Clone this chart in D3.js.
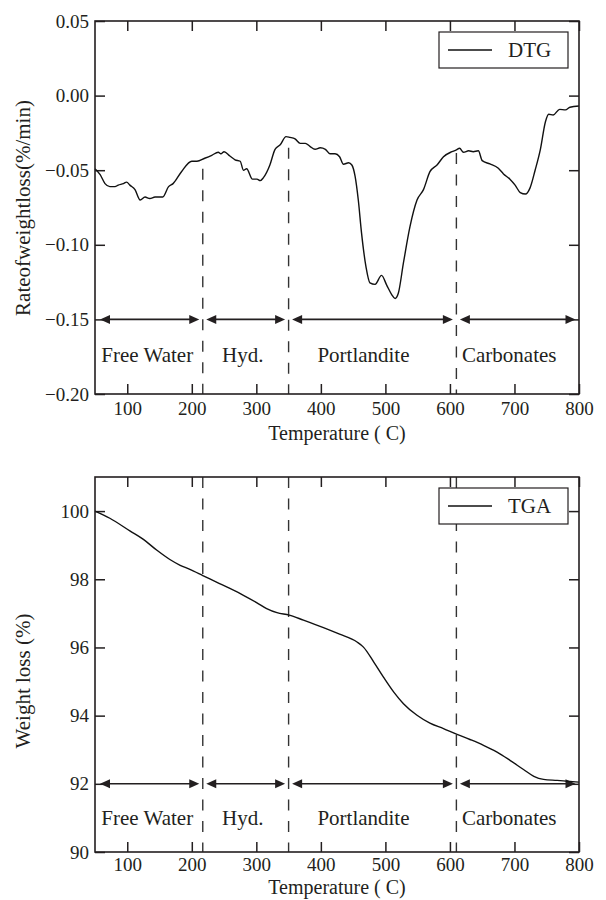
<!DOCTYPE html>
<html>
<head>
<meta charset="utf-8">
<script src="https://cdn.jsdelivr.net/npm/d3@7"></script>
<style>
  body { margin: 0; background: #fff; }
  svg { display: block; }
  text { font-family: "Liberation Serif", "Times New Roman", serif; fill: #231f20; }
</style>
</head>
<body>
<svg id="thermo"></svg>
<script>
// DTG: rate of weight loss (%/min) vs temperature
const dtgTemp = [50, 58, 65.5, 73, 81, 86, 94, 99, 104, 112, 120, 127.5, 135, 143, 151, 155, 164, 171, 184, 200,
  208, 220, 231, 241, 245, 250, 259, 267, 275, 280, 285, 294, 301, 306, 311, 321, 329, 337, 346, 352,
  360, 368, 376, 383, 391, 399, 407, 414, 422, 429, 435, 443, 448, 453, 458, 463, 470, 476, 484, 494,
  502, 510, 515, 520, 528, 538, 549, 559, 569, 580, 590, 603, 610, 615, 621, 629, 636, 644, 650, 662,
  675, 683, 693, 701, 709, 717, 724, 732, 740, 748, 753, 760, 770, 779, 786, 800];
const dtgRate = [-0.049, -0.053, -0.059, -0.061, -0.061, -0.060, -0.059, -0.058, -0.060, -0.063, -0.070, -0.068, -0.069, -0.068, -0.068, -0.068, -0.061, -0.059, -0.051, -0.044,
  -0.044, -0.042, -0.040, -0.038, -0.039, -0.0376, -0.0405, -0.043, -0.044, -0.050, -0.049, -0.056, -0.056, -0.057, -0.055, -0.0465, -0.036, -0.033, -0.0275, -0.028,
  -0.029, -0.032, -0.032, -0.034, -0.036, -0.035, -0.036, -0.039, -0.039, -0.041, -0.046, -0.045, -0.0465, -0.054, -0.070, -0.092, -0.115, -0.1255, -0.1265, -0.1205,
  -0.127, -0.1335, -0.136, -0.1325, -0.112, -0.088, -0.070, -0.063, -0.051, -0.0465, -0.041, -0.0376, -0.0364, -0.0353, -0.038, -0.037, -0.0376, -0.037, -0.0436, -0.0458,
  -0.0487, -0.0525, -0.056, -0.060, -0.065, -0.066, -0.062, -0.050, -0.0364, -0.0175, -0.0125, -0.013, -0.0092, -0.0096, -0.0078, -0.007];

// TGA: weight (%) vs temperature
const tgaTemp = [50, 73, 104, 125, 146, 166, 182, 197, 217, 239, 259, 280, 301, 316, 332, 351, 373, 404, 429, 456,
  466, 482, 497, 513, 528, 549, 569, 590, 611, 631, 652, 673, 693, 714, 730, 745, 766, 786, 800];
const tgaWeight = [100.0, 99.79, 99.42, 99.17, 98.85, 98.58, 98.41, 98.29, 98.11, 97.91, 97.73, 97.53, 97.31, 97.14, 97.02, 96.95, 96.80, 96.58, 96.39, 96.16,
  96.01, 95.57, 95.13, 94.69, 94.35, 94.01, 93.78, 93.62, 93.45, 93.30, 93.13, 92.93, 92.69, 92.42, 92.22, 92.13, 92.10, 92.07, 92.05];

const xTicks = [100, 200, 300, 400, 500, 600, 700, 800];
const dtgTicks = [0.05, 0.00, -0.05, -0.10, -0.15, -0.20];
const tgaTicks = [90, 92, 94, 96, 98, 100];

// decomposition regions
const regionBounds = [50, 217, 350, 610, 800];
const regionNames = ['Free Water', 'Hyd.', 'Portlandite', 'Carbonates'];
const regionLabelTemp = [131, 279, 466, 692];
const dtgDashTop = [-0.049, -0.035, -0.0385];

const svg = d3.select('#thermo')
  .attr('width', 606)
  .attr('height', 900);

const left = 95;
const width = 484;
const ink = '#231f20';

function drawPanel(opts) {
  const g = svg.append('g')
    .attr('transform', `translate(${left}, ${opts.top})`);

  const x = d3.scaleLinear().domain([50, 800]).range([0, width]);
  const y = d3.scaleLinear().domain(opts.yDomain).range([opts.height, 0]);

  // inward ticks on all four sides
  const axes = [
    { axis: d3.axisBottom(x).tickValues(xTicks), t: `translate(0, ${opts.height})`, labels: true, pad: opts.xPad },
    { axis: d3.axisTop(x).tickValues(xTicks), t: 'translate(0, 0)', labels: false, pad: 6 },
    { axis: d3.axisLeft(y).tickValues(opts.yTicks).tickFormat(opts.yFormat), t: 'translate(0, 0)', labels: true, pad: 6 },
    { axis: d3.axisRight(y).tickValues(opts.yTicks), t: `translate(${width}, 0)`, labels: false, pad: 6 },
  ];

  axes.forEach(a => {
    const ag = g.append('g')
      .attr('transform', a.t)
      .call(a.axis.tickSizeInner(-10).tickSizeOuter(0).tickPadding(a.pad));
    ag.select('.domain').remove();
    ag.selectAll('line').attr('stroke', ink).attr('stroke-width', 1.5);
    ag.selectAll('text')
      .attr('font-family', '"Liberation Serif", "Times New Roman", serif')
      .attr('font-size', 19)
      .attr('fill', ink);
    if (!a.labels) ag.selectAll('text').remove();
  });

  // dashed region boundaries
  g.selectAll('.bound')
    .data(regionBounds.slice(1, 4))
    .enter().append('line')
      .attr('class', 'bound')
      .attr('x1', d => x(d))
      .attr('x2', d => x(d))
      .attr('y1', (d, i) => opts.dashTop ? y(opts.dashTop[i]) : 0)
      .attr('y2', opts.height)
      .attr('stroke', '#333')
      .attr('stroke-width', 1.4)
      .attr('stroke-dasharray', '11,10.5');

  // double arrows for each region
  const ay = y(opts.arrowValue);
  const head = 10;
  const gap = 3.5;
  regionNames.forEach((name, i) => {
    const x0 = x(regionBounds[i]) + (i === 0 ? 5 : gap);
    const x1 = x(regionBounds[i + 1]) - gap;
    g.append('line')
      .attr('x1', x0 + head - 1).attr('x2', x1 - head + 1)
      .attr('y1', ay).attr('y2', ay)
      .attr('stroke', ink).attr('stroke-width', 1.6);
    g.append('path')
      .attr('d', `M${x0},${ay}L${x0 + head},${ay - 4.5}L${x0 + head},${ay + 4.5}Z`)
      .attr('fill', ink);
    g.append('path')
      .attr('d', `M${x1},${ay}L${x1 - head},${ay - 4.5}L${x1 - head},${ay + 4.5}Z`)
      .attr('fill', ink);
    g.append('text')
      .attr('x', x(regionLabelTemp[i]))
      .attr('y', ay + opts.labelDy)
      .attr('text-anchor', 'middle')
      .attr('font-size', 21)
      .text(name);
  });

  // curve
  const line = d3.line()
    .x(d => x(d[0]))
    .y(d => y(d[1]))
    .curve(d3.curveMonotoneX);

  g.append('path')
    .datum(opts.temps.map((t, i) => [t, opts.values[i]]))
    .attr('fill', 'none')
    .attr('stroke', '#111')
    .attr('stroke-width', 1.4)
    .attr('d', line);

  // frame
  g.append('rect')
    .attr('width', width)
    .attr('height', opts.height)
    .attr('fill', 'none')
    .attr('stroke', ink)
    .attr('stroke-width', 1.6);

  // legend
  const lg = g.append('g')
    .attr('transform', `translate(${width - 140}, 11)`);
  lg.append('rect')
    .attr('width', 129)
    .attr('height', 36)
    .attr('fill', '#fff')
    .attr('stroke', ink)
    .attr('stroke-width', 1.2);
  lg.append('line')
    .attr('x1', 9).attr('x2', 53)
    .attr('y1', 18).attr('y2', 18)
    .attr('stroke', '#111')
    .attr('stroke-width', 1.4);
  lg.append('text')
    .attr('x', 69)
    .attr('y', 25)
    .attr('font-size', 21)
    .text(opts.legend);

  // axis titles
  g.append('text')
    .attr('x', width / 2)
    .attr('y', opts.height + opts.xTitleDy)
    .attr('text-anchor', 'middle')
    .attr('font-size', 20)
    .text('Temperature ( C)');

  g.append('text')
    .attr('transform', `translate(${30 - left}, ${opts.yTitleY - opts.top}) rotate(-90)`)
    .attr('text-anchor', 'middle')
    .attr('font-size', 21)
    .text(opts.yTitle);
}

drawPanel({
  top: 21,
  height: 373,
  yDomain: [-0.20, 0.05],
  yTicks: dtgTicks,
  yFormat: d3.format('.2f'),
  temps: dtgTemp,
  values: dtgRate,
  dashTop: dtgDashTop,
  arrowValue: -0.15,
  labelDy: 43,
  xPad: 8,
  xTitleDy: 46,
  legend: 'DTG',
  yTitle: 'Rateofweightloss(%/min)',
  yTitleY: 208,
});

drawPanel({
  top: 477,
  height: 375,
  yDomain: [90, 101],
  yTicks: tgaTicks,
  yFormat: d3.format('d'),
  temps: tgaTemp,
  values: tgaWeight,
  dashTop: null,
  arrowValue: 92,
  labelDy: 41,
  xPad: 6,
  xTitleDy: 42,
  legend: 'TGA',
  yTitle: 'Weight loss (%)',
  yTitleY: 681,
});
</script>
</body>
</html>
